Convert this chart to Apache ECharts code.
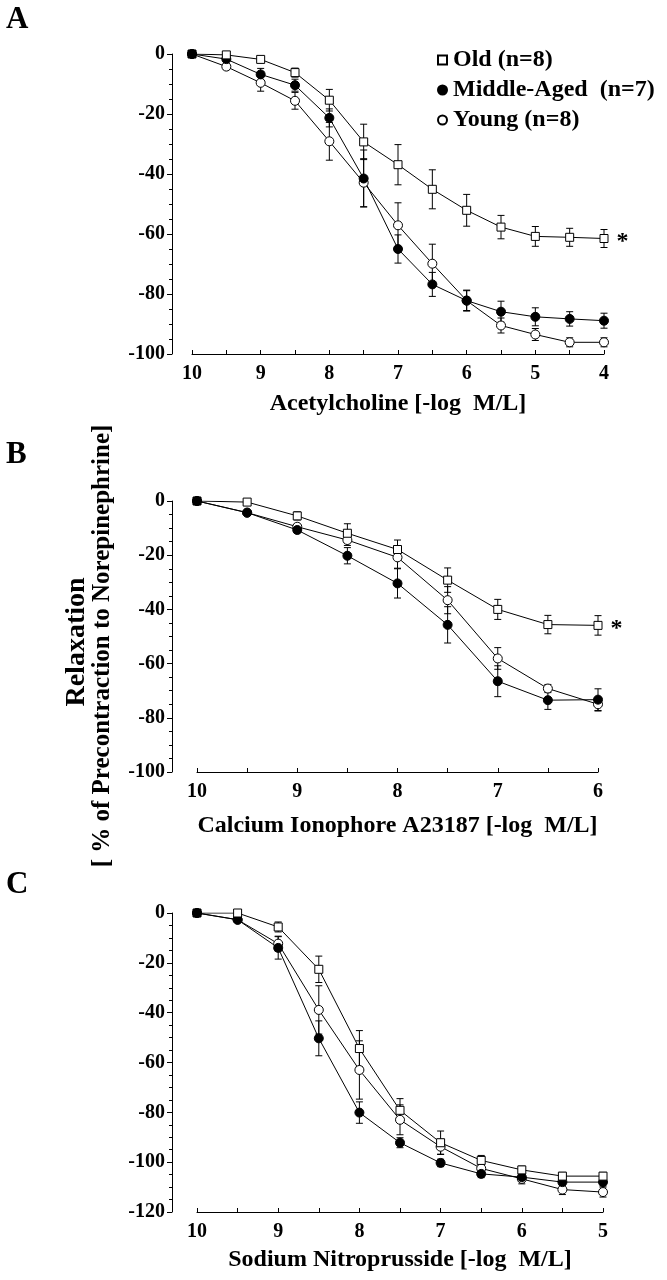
<!DOCTYPE html>
<html><head><meta charset="utf-8">
<script src="https://cdn.jsdelivr.net/npm/echarts@6/dist/echarts.min.js"></script>
<style>html,body{margin:0;padding:0;background:#fff}#c{width:667px;height:1280px}</style>
</head><body><div id="c"></div>
<script>
// ---- Data ----
const legendNames = ['Old (n=8)', 'Middle-Aged  (n=7)', 'Young (n=8)'];

const xA = [10, 9.5, 9, 8.5, 8, 7.5, 7, 6.5, 6, 5.5, 5, 4.5, 4];
const oldA = [0, -0.3, -1.8, -6.2, -15.4, -29.3, -36.9, -45.1, -52.1, -57.7, -60.8, -61.1, -61.5];
const oldErrA = [0, 0.5, 1, 1.5, 3.6, 5.9, 6.7, 6.5, 5.3, 3.9, 3.3, 3, 3];
const midA = [0, -1.7, -6.8, -10.4, -21.3, -41.5, -65, -76.8, -82.2, -85.9, -87.6, -88.3, -88.9];
const midErrA = [0, 0.5, 2, 2, 3, 9.5, 4.7, 4, 3.3, 3.5, 3, 2.4, 2.5];
const youngA = [0, -4.2, -9.6, -15.6, -29.1, -42.9, -57.1, -69.9, -82.2, -90.5, -93.5, -96.1, -96.1];
const youngErrA = [0, 1, 2.8, 2.8, 6.3, 8, 7.5, 6.5, 3.5, 2.5, 2, 1.5, 1.5];

const xB = [10, 9.5, 9, 8.5, 8, 7.5, 7, 6.5, 6];
const oldB = [0, -0.4, -5.5, -11.9, -17.9, -29.2, -40, -45.6, -45.9];
const oldErrB = [0, 0.5, 1.5, 3.5, 3.5, 4.5, 3.7, 3.4, 3.6];
const midB = [0, -4.3, -10.7, -20.2, -30.4, -45.7, -66.5, -73.5, -73.3];
const midErrB = [0, 0.5, 1, 3, 5.4, 6.7, 5.7, 3.4, 4];
const youngB = [0, -4.3, -9.5, -14.4, -20.8, -36.6, -58.1, -69.2, -75];
const youngErrB = [0, 0.5, 1, 2, 4, 5, 4, 1.5, 2.5];

const xC = [10, 9.5, 9, 8.5, 8, 7.5, 7, 6.5, 6, 5.5, 5];
const oldC = [0, 0, -5.6, -22.6, -54.4, -79.2, -92.2, -99.3, -103.1, -105.6, -105.6];
const oldErrC = [0, 0.5, 2, 5.3, 7.2, 4.7, 4.7, 2, 1.5, 1.5, 1.5];
const midC = [0, -2.7, -14, -50.3, -80.1, -92.2, -100.3, -104.7, -106, -108, -108];
const midErrC = [0, 0.5, 4.5, 7, 4.3, 2, 1.5, 1.5, 1.5, 1.5, 1.5];
const youngC = [0, -2.7, -12.3, -38.9, -63, -83, -93.8, -102.5, -106.7, -111, -112];
const youngErrC = [0, 1, 3, 9.7, 11.7, 6, 3, 2, 2, 2, 2];

const xTitles = ['Acetylcholine [-log  M/L]', 'Calcium Ionophore A23187 [-log  M/L]', 'Sodium Nitroprusside [-log  M/L]'];
const xMins = [4, 6, 5];
const yMins = [-100, -100, -120];
const yTitle1 = 'Relaxation';
const yTitle2 = '[ % of Precontraction to Norepinephrine]';
const panelLetters = ['A', 'B', 'C'];
const sigMark = '*';

// ---- Chart ----
const FONT = '"Liberation Serif", "DejaVu Serif", serif';
const panels = [
  {x: xA, old: oldA, oe: oldErrA, mid: midA, me: midErrA, yg: youngA, ye: youngErrA, sig: true},
  {x: xB, old: oldB, oe: oldErrB, mid: midB, me: midErrB, yg: youngB, ye: youngErrB, sig: true},
  {x: xC, old: oldC, oe: oldErrC, mid: midC, me: midErrC, yg: youngC, ye: youngErrC, sig: false}
];
const grids = [
  {left: 192, top: 54, width: 412, height: 300},
  {left: 197, top: 501, width: 401, height: 271},
  {left: 197, top: 913, width: 406, height: 299}
];
const yOffsets = [20, 25, 25];
const nameGaps = [38, 42, 36];

const styles = {
  old: {symbol: 'rect', size: 8, color: '#fff'},
  mid: {symbol: 'circle', size: 9, color: '#000'},
  yg: {symbol: 'circle', size: 9, color: '#fff'}
};

function errSeries(xs, ys, es, gi) {
  return {
    type: 'custom', xAxisIndex: gi, yAxisIndex: gi, z: 1, silent: true,
    data: xs.map((x, i) => [x, ys[i], es[i]]),
    renderItem: function (params, api) {
      const x = api.value(0), y = api.value(1), e = api.value(2);
      if (!e) return null;
      const t = api.coord([x, y + e]), b = api.coord([x, y - e]);
      const w = 3.5;
      const st = {stroke: '#000', lineWidth: 1};
      return {type: 'group', children: [
        {type: 'line', shape: {x1: t[0], y1: t[1], x2: b[0], y2: b[1]}, style: st},
        {type: 'line', shape: {x1: t[0] - w, y1: t[1], x2: t[0] + w, y2: t[1]}, style: st},
        {type: 'line', shape: {x1: b[0] - w, y1: b[1], x2: b[0] + w, y2: b[1]}, style: st}
      ]};
    }
  };
}

function lineSeries(name, key, xs, ys, gi, sig) {
  const s = styles[key];
  const data = xs.map((x, i) => {
    const item = {value: [x, ys[i]]};
    if (key === 'old' && i === 0) item.itemStyle = {color: '#000'};
    if (key === 'old' && sig && i === xs.length - 1) {
      item.label = {show: true, formatter: sigMark, position: 'right', distance: 8,
        fontFamily: FONT, fontWeight: 'bold', fontSize: 24, color: '#000', offset: [0, 3]};
    }
    return item;
  });
  return {
    name: name, type: 'line', xAxisIndex: gi, yAxisIndex: gi, z: 3,
    data: data, symbol: s.symbol, symbolSize: s.size, showAllSymbol: true,
    lineStyle: {color: '#000', width: 1},
    itemStyle: {color: s.color, borderColor: '#000', borderWidth: 1, opacity: 1},
    emphasis: {disabled: true}
  };
}

const series = [];
const xAxes = [], yAxes = [];
panels.forEach((p, gi) => {
  series.push(errSeries(p.x, p.old, p.oe, gi));
  series.push(errSeries(p.x, p.mid, p.me, gi));
  series.push(errSeries(p.x, p.yg, p.ye, gi));
  series.push(lineSeries(legendNames[2], 'yg', p.x, p.yg, gi, false));
  series.push(lineSeries(legendNames[1], 'mid', p.x, p.mid, gi, false));
  series.push(lineSeries(legendNames[0], 'old', p.x, p.old, gi, p.sig));
  xAxes.push({
    type: 'value', gridIndex: gi, min: xMins[gi], max: 10, interval: 0.5, inverse: true,
    position: 'bottom',
    name: xTitles[gi], nameLocation: 'middle', nameGap: nameGaps[gi],
    nameTextStyle: {fontFamily: FONT, fontWeight: 'bold', fontSize: 24, color: '#000'},
    axisLine: {onZero: false, lineStyle: {color: '#000', width: 1}},
    axisTick: {show: true, inside: true, length: 4, lineStyle: {color: '#000'}},
    axisLabel: {margin: 10, fontFamily: FONT, fontWeight: 'bold', fontSize: 20, color: '#000',
      formatter: v => (Math.abs(v - Math.round(v)) < 1e-6 ? String(Math.round(v)) : '')},
    splitLine: {show: false}
  });
  yAxes.push({
    type: 'value', gridIndex: gi, min: yMins[gi], max: 0, interval: 20, offset: yOffsets[gi],
    axisLine: {show: true, lineStyle: {color: '#000', width: 1}},
    axisTick: {show: true, length: 5, lineStyle: {color: '#000'}},
    minorTick: {show: true, splitNumber: 4, length: 3, lineStyle: {color: '#000'}},
    axisLabel: {margin: 7, fontFamily: FONT, fontWeight: 'bold', fontSize: 20, color: '#000'},
    splitLine: {show: false}
  });
});

const graphics = [
  {type: 'text', x: 6, y: 4, style: {text: panelLetters[0], fontFamily: FONT, fontWeight: 'bold', fontSize: 31, fill: '#000'}},
  {type: 'text', x: 6, y: 439, style: {text: panelLetters[1], fontFamily: FONT, fontWeight: 'bold', fontSize: 31, fill: '#000'}},
  {type: 'text', x: 6, y: 869, style: {text: panelLetters[2], fontFamily: FONT, fontWeight: 'bold', fontSize: 31, fill: '#000'}},
  {type: 'text', x: 77, y: 642, rotation: Math.PI / 2,
    style: {text: yTitle1, fontFamily: FONT, fontWeight: 'bold', fontSize: 28, fill: '#000', textAlign: 'center', textVerticalAlign: 'middle'}},
  {type: 'text', x: 103, y: 646, rotation: Math.PI / 2,
    style: {text: yTitle2, fontFamily: FONT, fontWeight: 'bold', fontSize: 25, fill: '#000', textAlign: 'center', textVerticalAlign: 'middle'}}
];

const chart = echarts.init(document.getElementById('c'), null, {renderer: 'canvas'});
chart.setOption({
  animation: false,
  backgroundColor: '#fff',
  grid: grids,
  xAxis: xAxes,
  yAxis: yAxes,
  legend: {
    left: 432, top: 43, orient: 'vertical', itemGap: 6, itemWidth: 9, itemHeight: 9,
    selectedMode: false,
    data: [
      {name: legendNames[0], icon: 'rect'},
      {name: legendNames[1], icon: 'circle'},
      {name: legendNames[2], icon: 'circle'}
    ],
    textStyle: {fontFamily: FONT, fontWeight: 'bold', fontSize: 24, color: '#000', lineHeight: 24, padding: [0, 0, 0, 1]}
  },
  graphic: graphics,
  series: series
});
</script></body></html>
